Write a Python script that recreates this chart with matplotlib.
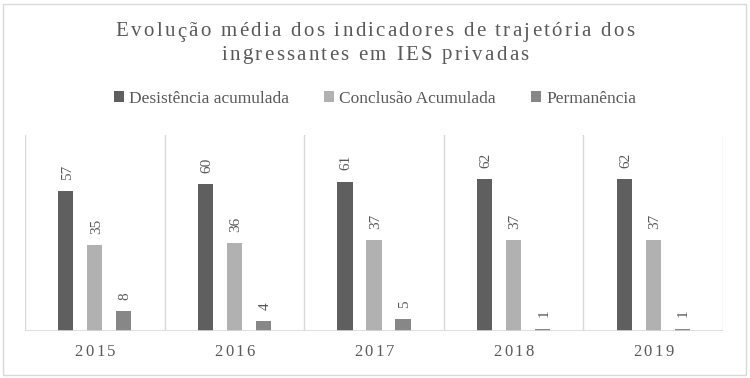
import matplotlib
matplotlib.use("Agg")
import matplotlib.pyplot as plt
from matplotlib import font_manager, ft2font
from matplotlib.patches import Rectangle
import numpy as np

# dados
anos = ["2015", "2016", "2017", "2018", "2019"]
desistencia = [57, 60, 61, 62, 62]
conclusao = [35, 36, 37, 37, 37]
permanencia = [8, 4, 5, 1, 1]
series = ["Desistência acumulada", "Conclusão Acumulada", "Permanência"]
cores = ["#5f5f5f", "#b1b1b1", "#878787"]

titulo1 = "Evolução média dos indicadores de trajetória dos"
titulo2 = "ingressantes em IES privadas"

W, H = 750, 378
FONTE = "Liberation Serif"
CINZA = "#595959"

fig = plt.figure(figsize=(W / 100, H / 100), dpi=100)
plt.rcParams["font.family"] = [FONTE, "DejaVu Serif"]

# moldura da figura
fig.patches.append(Rectangle((3 / W, 3 / H), 743 / W, 371 / H, transform=fig.transFigure,
                             fill=False, edgecolor="#d9d9d9", linewidth=1))

ft = ft2font.FT2Font(font_manager.findfont(font_manager.FontProperties(family=FONTE)))


def texto_espacado(xc, y, s, size, espaco, cor=CINZA):
    # desenha letra a letra para imitar o espaçamento entre caracteres
    ft.set_size(size, 100)
    larg = [ft.load_char(ord(c)).linearHoriAdvance / 65536 for c in s]
    total = sum(larg) + espaco * (len(s) - 1)
    x = xc - total / 2
    for c, w in zip(s, larg):
        if c != " ":
            fig.text(x / W, 1 - y / H, c, fontsize=size, color=cor, ha="left", va="center",
                     family=FONTE)
        x += w + espaco


texto_espacado(375, 32, titulo1, 15, 2.3)
texto_espacado(375, 55, titulo2, 15, 2.3)

ax = fig.add_axes([25 / W, 1 - 331 / H, 698 / W, 196 / H])
x = np.arange(len(anos))
larg = 0.108
desloc = [-0.208, 0, 0.208]
valores = [desistencia, conclusao, permanencia]
handles = []
for vals, cor, d, nome in zip(valores, cores, desloc, series):
    b = ax.bar(x + d, vals, larg, color=cor, label=nome, zorder=3)
    handles.append(b)
    for xi, v in zip(x + d, vals):
        ax.annotate(str(v), (xi, v), xytext=(1, 8), textcoords="offset points",
                    rotation=90, ha="center", va="bottom", fontsize=11, color=CINZA)

ax.set_xlim(-0.5, len(anos) - 0.5)
ax.set_ylim(0, 80)
for xv in np.arange(-0.5, len(anos), 1):
    ax.axvline(xv, color="#d9d9d9", linewidth=1, zorder=1)
for s in ax.spines.values():
    s.set_visible(False)
ax.axhline(0, color="#d9d9d9", linewidth=1.2, zorder=4)
ax.set_yticks([])
ax.set_xticks([])

for i, ano in enumerate(anos):
    xc = 25 + (i + 0.5) * 698 / len(anos)
    texto_espacado(xc, 352, ano, 12, 2.4)

fig.legend(handles=handles, labels=series, loc="center", bbox_to_anchor=(0.5, 1 - 99 / H),
           ncol=3, frameon=False, fontsize=12.5, handlelength=0.6, handleheight=0.6,
           handletextpad=0.3, columnspacing=2.0, labelcolor=CINZA)

fig.savefig("out.png", dpi=100)
